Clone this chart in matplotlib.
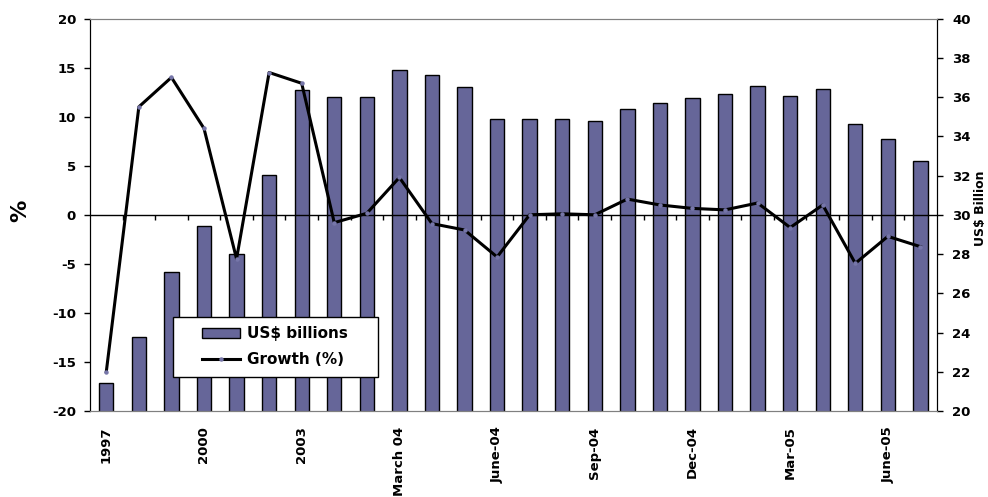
import numpy as np
import matplotlib.pyplot as plt
from matplotlib.lines import Line2D
from matplotlib.patches import Patch, Rectangle

# periods: annual to 2003, then monthly
periods = ['1997', '1998', '1999', '2000', '2001', '2002', '2003',
           'Jan-04', 'Feb-04', 'March 04', 'Apr-04', 'May-04', 'June-04',
           'Jul-04', 'Aug-04', 'Sep-04', 'Oct-04', 'Nov-04', 'Dec-04',
           'Jan-05', 'Feb-05', 'Mar-05', 'Apr-05', 'May-05', 'June-05', 'Jul-05']
# right axis, US$ billion
value_bn = [21.44, 23.77, 27.09, 29.43, 28.0, 32.04, 36.37, 36.0, 36.0, 37.4,
            37.1, 36.5, 34.88, 34.88, 34.88, 34.8, 35.37, 35.7, 35.93, 36.13,
            36.55, 36.05, 36.42, 34.65, 33.88, 32.74]
# left axis, growth in %
growth = [-16.0, 11.0, 14.0, 8.8, -4.5, 14.5, 13.4, -0.8, 0.15, 3.8, -0.9,
          -1.55, -4.3, 0.0, 0.1, 0.0, 1.6, 1.0, 0.65, 0.5, 1.2, -1.3, 1.0,
          -4.95, -2.2, -3.25]
left_ticks = [-20, -15, -10, -5, 0, 5, 10, 15, 20]
right_ticks = [20, 22, 24, 26, 28, 30, 32, 34, 36, 38, 40]

plt.rcParams['font.family'] = ['DejaVu Sans']
plt.rcParams['font.weight'] = 'bold'
plt.rcParams['axes.unicode_minus'] = False

bar_color = '#666699'
dot_color = '#7777aa'
fig = plt.figure(figsize=(9.88, 4.97), dpi=100)
ax = fig.add_axes([0.0911, 0.173, 0.857, 0.7897])
ax2 = ax.twinx()
ax.set_zorder(ax2.get_zorder() + 1)
ax.patch.set_visible(False)

x = np.arange(len(periods))
ax2.bar(x, value_bn, width=0.44, color=bar_color, edgecolor='black', linewidth=1)
ax2.set_ylim(20, 40)
ax2.set_yticks(right_ticks)
ax2.tick_params(axis='y', direction='out', length=4, width=1, pad=7, labelsize=9.5)
ax2.set_ylabel('US$ Billion', fontsize=9, fontweight='bold')
ax2.yaxis.set_label_coords(1.044, 0.517)

ax.plot(x, growth, color='black', lw=2.2, marker='o', markersize=2.2,
        markerfacecolor=dot_color, markeredgecolor=dot_color, zorder=5)
ax.axhline(0, color='black', lw=1, zorder=4)
# small category ticks hanging from the zero line
ax.vlines(x[:-1] + 0.5, -0.5, 0, color='black', lw=1, zorder=4)

ax.set_xlim(-0.5, len(periods) - 0.5)
ax.set_ylim(-20, 20)
ax.set_yticks(left_ticks)
ax.tick_params(axis='y', direction='out', length=4, width=1, pad=6, labelsize=9.5)
ax.set_ylabel('%', fontsize=16, fontweight='bold')
ax.yaxis.set_label_coords(-0.07, 0.51)

shown = [p if i % 3 == 0 else '' for i, p in enumerate(periods)]
ax.set_xticks(x)
ax.set_xticklabels(shown, rotation=90, fontsize=9.5, fontweight='bold')
ax.tick_params(axis='x', length=0, pad=11)

for a in (ax, ax2):
    a.spines['top'].set_color('#808080')
    a.spines['bottom'].set_color('#808080')
    a.spines['left'].set_color('black')
    a.spines['right'].set_color('black')

# legend box
ax.add_patch(Rectangle((0.0976, 0.087), 0.243, 0.153, transform=ax.transAxes,
                       facecolor='white', edgecolor='black', linewidth=1, zorder=6))
handles = [Patch(facecolor=bar_color, edgecolor='black', linewidth=1),
           Line2D([], [], color='black', lw=2.2, marker='o', markersize=2.2,
                  markerfacecolor=dot_color, markeredgecolor=dot_color)]
leg = ax.legend(handles, ['US$ billions', 'Growth (%)'], loc='center left',
                bbox_to_anchor=(0.132, 0.164), prop={'weight': 'bold', 'size': 11},
                frameon=False, handlelength=2.5, handleheight=0.65,
                handletextpad=0.45, borderaxespad=0, labelspacing=0.7,
                borderpad=0)
leg.set_zorder(7)

fig.savefig('out.png', dpi=100)
